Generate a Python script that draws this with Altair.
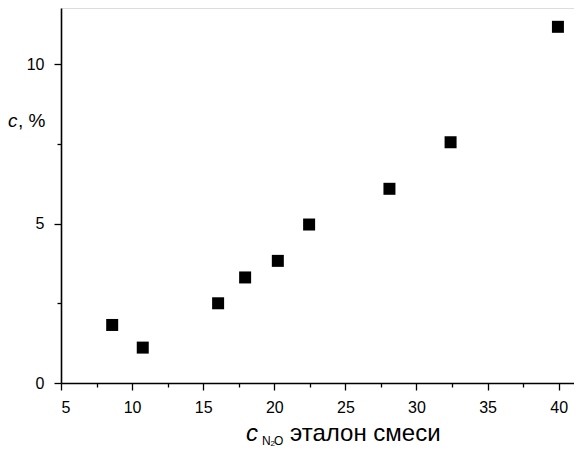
import altair as alt
import pandas as pd

# data
x_vals = [8.6, 10.75, 16.05, 17.95, 20.25, 22.45, 28.1, 32.4, 39.95]
y_vals = [1.82, 1.11, 2.50, 3.31, 3.83, 4.97, 6.09, 7.55, 11.17]
x_ticks = [5, 7.5, 10, 12.5, 15, 17.5, 20, 22.5, 25, 27.5, 30, 32.5, 35, 37.5, 40]
y_ticks = [0, 2.5, 5, 7.5, 10]

FONT = "Liberation Sans"

df = pd.DataFrame({"x": x_vals, "y": y_vals})

W, H = 513, 375

points = alt.Chart(df).mark_square(size=144, color="black", opacity=1).encode(
    x=alt.X("x:Q", scale=alt.Scale(domain=[5, 41.08], nice=False, zero=False),
            axis=alt.Axis(values=x_ticks, title=None, grid=False,
                          labelExpr="datum.value % 5 === 0 ? datum.label : ''",
                          tickSize={"condition": {"test": "datum.value % 5 !== 0", "value": 4}, "value": 7},
                          labelPadding=9, labelFontSize=16, labelFont=FONT, labelColor="black",
                          domainColor="black", domainWidth=1.6, tickColor="black", tickWidth=1.3)),
    y=alt.Y("y:Q", scale=alt.Scale(domain=[0, 11.76], nice=False),
            axis=alt.Axis(values=y_ticks, title=None, grid=False,
                          labelExpr="datum.value % 5 === 0 ? datum.label : ''",
                          tickSize={"condition": {"test": "datum.value % 5 !== 0", "value": 4}, "value": 7},
                          labelPadding=10, labelFontSize=16, labelFont=FONT, labelColor="black",
                          domainColor="black", domainWidth=1.6, tickColor="black", tickWidth=1.3)),
)

def txt(s, px, py, size, style="normal"):
    return alt.Chart(pd.DataFrame({"t": [s]})).mark_text(
        align="left", baseline="alphabetic", font=FONT, fontSize=size,
        fontStyle=style, color="black").encode(
        text="t:N", x=alt.value(px), y=alt.value(py))

x_title_c = txt("c", 185, 433, 24, "italic")
x_title_sub = txt("N", 201, 437, 12)
x_title_sub2 = txt("2", 209.5, 438, 8)
x_title_sub3 = txt("O", 213, 437, 12)
x_title_rest = txt("эталон смеси", 229, 433, 24)
y_title_c = txt("c", -53, 119, 19, "italic")
y_title_rest = txt(", %", -43, 119, 19)

chart = alt.layer(points, x_title_c, x_title_sub, x_title_sub2, x_title_sub3,
                  x_title_rest, y_title_c, y_title_rest).properties(
    width=W, height=H,
    autosize=alt.AutoSizeParams(type="none"),
    padding={"left": 53, "top": 0, "right": 0, "bottom": 66},
).configure_view(stroke=None).configure(background="white")

chart.save("out.html", embed_options={"renderer": "svg", "actions": False})
